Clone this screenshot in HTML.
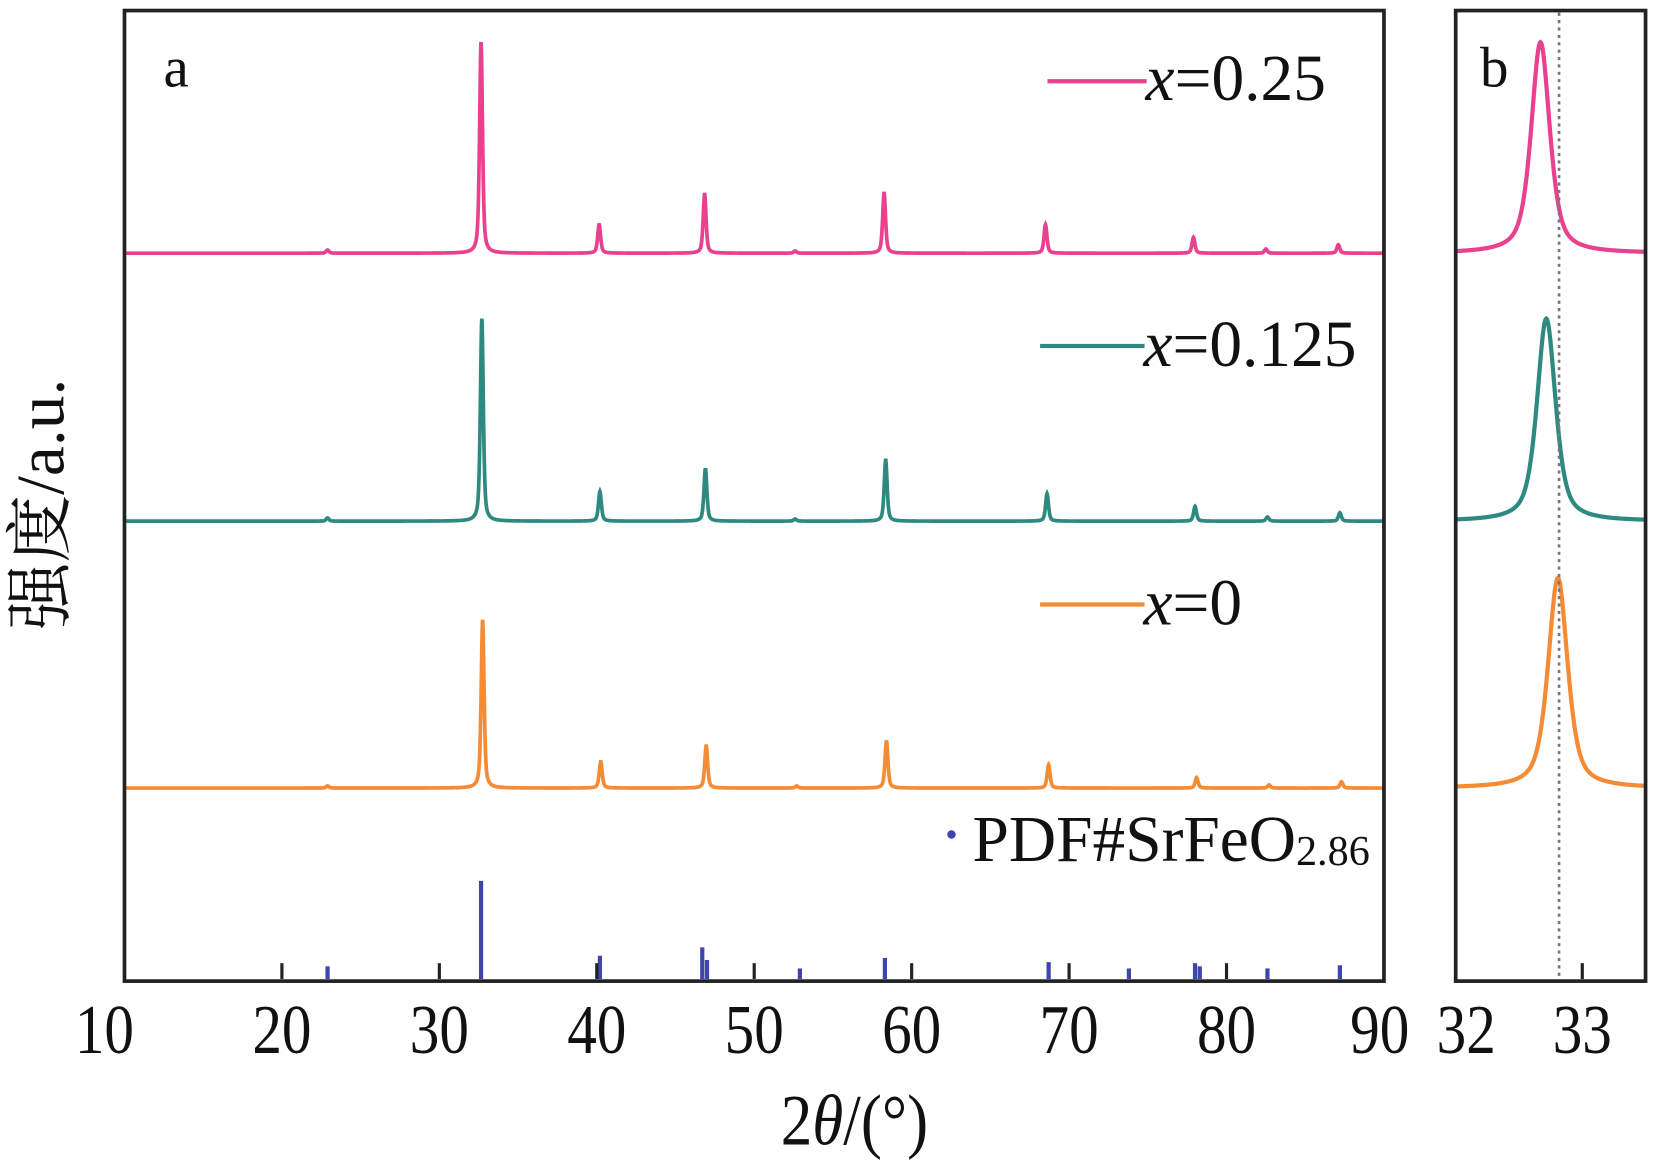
<!DOCTYPE html>
<html><head><meta charset="utf-8"><style>
html,body{margin:0;padding:0;background:#fff;}
svg{display:block;}
text{font-family:"Liberation Serif","Noto Serif CJK SC",serif;fill:#111;}
</style></head><body>
<svg id="chart" width="1654" height="1171" viewBox="0 0 1568 1110" preserveAspectRatio="none" xmlns="http://www.w3.org/2000/svg">
<g id="plot"></g>
<rect x="118" y="10" width="1194" height="920" fill="none" stroke="#222" stroke-width="3.5"/>
<rect x="1380" y="10" width="180" height="920" fill="none" stroke="#222" stroke-width="3.5"/>
<text x="155" y="82" font-size="54">a</text>
<text x="1403" y="82" font-size="54">b</text>
<g><line x1="993" y1="77" x2="1087" y2="77" stroke="#e9418e" stroke-width="4"/><text x="1086" y="95" font-size="62"><tspan font-style="italic">x</tspan>=0.25</text></g>
<g><line x1="986" y1="328" x2="1085" y2="328" stroke="#2e8a80" stroke-width="4"/><text x="1084" y="347" font-size="62"><tspan font-style="italic">x</tspan>=0.125</text></g>
<g><line x1="986" y1="573" x2="1085" y2="573" stroke="#f58b35" stroke-width="4"/><text x="1084" y="592" font-size="62"><tspan font-style="italic">x</tspan>=0</text></g>
<g><circle cx="902" cy="791" r="4" fill="#3f45b0"/><text x="922" y="816" font-size="62">PDF#SrFeO<tspan font-size="40" dy="4">2.86</tspan></text></g>
<text transform="translate(810,1085) scale(0.88,1)" font-size="68" text-anchor="middle">2<tspan font-style="italic">θ</tspan>/(°)</text>
<text transform="translate(60,478) rotate(-90)" font-size="64" text-anchor="middle">强度/a.u.</text>
</svg>
<script>
const ticksA=[10,20,30,40,50,60,70,80,90];
const ticksB=[32,33];
const peakPos025=[22.9,32.65,40.15,46.85,52.6,58.25,68.5,77.9,82.5,87.1];
const peakH025=[3,200,27,56,2,57,27,15,4,8];
const peakPos0125=[22.9,32.7,40.2,46.9,52.6,58.35,68.6,78.0,82.6,87.2];
const peakH0125=[3,192,28,50,2,58,26,14,4,8];
const peakPos0=[22.9,32.75,40.25,46.95,52.7,58.4,68.7,78.1,82.7,87.3];
const peakH0=[2,159,25,40,2,45,22,10,3,6];
const pdfPos=[22.9,32.65,40.2,46.7,47.0,52.9,58.3,68.7,73.8,78.0,78.3,82.6,87.2];
const pdfH=[12,93,22,30,18,10,20,16,10,15,12,10,13];
const bCenter=[32.64,32.69,32.79];
const bHeight=[200,192,199];
const bWidth=[0.19,0.19,0.2];
const baselines=[240,494,747];
const colors=['#e9418e','#2e8a80','#f58b35'];
const NS='http://www.w3.org/2000/svg';
const g=document.getElementById('plot');
const xA=v=>118+(v-10)*(1194/80);
const xB=v=>1390+(v-32)*110;
function prof(x,pos,h,w){let s=0;for(let i=0;i<pos.length;i++){const d=(x-pos[i])/(w/2);s+=h[i]*(0.55/(1+d*d)+0.45*Math.exp(-0.693*d*d));}return s;}
function mk(tag,attrs){const e=document.createElementNS(NS,tag);for(const k in attrs)e.setAttribute(k,attrs[k]);g.appendChild(e);return e;}
const series=[[peakPos025,peakH025],[peakPos0125,peakH0125],[peakPos0,peakH0]];
const names=['x025','x0125','x0'];
series.forEach((s,i)=>{let d='';for(let x=10;x<=90;x+=0.02){d+=(d?'L':'M')+xA(x).toFixed(2)+','+(baselines[i]-prof(x,s[0],s[1],0.22)).toFixed(2);}
const p=mk('path',{d:d,fill:'none',stroke:colors[i],'stroke-width':3.5});


let db='';for(let x=31.92;x<=33.55;x+=0.005){const dd=(x-bCenter[i])/(bWidth[i]/2);const y=bHeight[i]*(0.6/(1+dd*dd)+0.4*Math.exp(-0.693*dd*dd));db+=(db?'L':'M')+xB(x).toFixed(2)+','+(baselines[i]-y).toFixed(2);}
const pb=mk('path',{d:db,fill:'none',stroke:colors[i],'stroke-width':4});

});
pdfPos.forEach((v,i)=>{const l=mk('line',{x1:xA(v),x2:xA(v),y1:928,y2:928-pdfH[i],stroke:'#3f45b0','stroke-width':4});

});
const rl=mk('line',{x1:xB(32.8),x2:xB(32.8),y1:12,y2:928,stroke:'#777','stroke-width':2.5,'stroke-dasharray':'3,4'});


function tickLabel(x,v,name){const tx=mk('text',{transform:'translate('+x+',998) scale(0.85,1)','font-size':66,'text-anchor':'middle'});tx.textContent=v;

}
ticksA.forEach(v=>{if(v>10&&v<90){const t=mk('line',{x1:xA(v),x2:xA(v),y1:928,y2:913,stroke:'#222','stroke-width':3});}
tickLabel(xA(v)-(v===10?19:0)-(v===90?4:0),v,'x-tick-label');});
ticksB.forEach(v=>{if(v>32){const t=mk('line',{x1:xB(v),x2:xB(v),y1:928,y2:913,stroke:'#222','stroke-width':3});}
tickLabel(xB(v),v,'b-tick-label');});
</script>
</body></html>
